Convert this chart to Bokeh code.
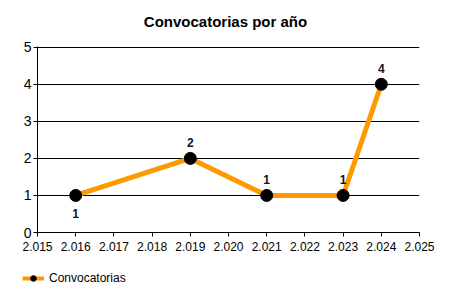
from bokeh.plotting import figure
from bokeh.layouts import column
from bokeh.models import (ColumnDataSource, FixedTicker, Range1d, Legend, LegendItem, Label)
from bokeh.core.properties import value
from bokeh.embed import file_html
from bokeh.resources import INLINE

title_text = "Convocatorias por año"
series_name = "Convocatorias"
years = [2016, 2019, 2021, 2023, 2024]
counts = [1, 2, 1, 1, 4]
label_below = [True, False, False, False, False]
x_ticks = [2015, 2016, 2017, 2018, 2019, 2020, 2021, 2022, 2023, 2024, 2025]
x_tick_labels = ["2.015", "2.016", "2.017", "2.018", "2.019", "2.020",
                 "2.021", "2.022", "2.023", "2.024", "2.025"]
y_ticks = [0, 1, 2, 3, 4, 5]

FONT = "Liberation Sans"
ORANGE = "#FF9900"


def strip(height):
    f = figure(width=450, height=height, output_backend="svg", toolbar_location=None,
               x_range=Range1d(0, 450), y_range=Range1d(0, height), frame_align=False,
               min_border_left=0, min_border_right=0, min_border_top=0, min_border_bottom=0)
    f.axis.visible = False
    f.grid.visible = False
    f.outline_line_color = None
    f.background_fill_color = "white"
    f.border_fill_color = "white"
    return f


# title strip
tt = strip(38)
tt.add_layout(Label(x=225, y=17, text=title_text, text_align="center",
                    text_baseline="alphabetic", text_font=FONT, text_font_size="15px",
                    text_font_style="bold", text_color="#000000"))

# main chart
p = figure(width=450, height=224, output_backend="svg", toolbar_location=None,
           x_range=Range1d(2015, 2025), y_range=Range1d(0, 5.02),
           min_border_left=37, min_border_right=31, min_border_bottom=30,
           min_border_top=8, frame_align=False)
p.outline_line_color = None
p.background_fill_color = "white"
p.border_fill_color = "white"

p.xaxis.ticker = FixedTicker(ticks=x_ticks)
p.xaxis.major_label_overrides = {t: l for t, l in zip(x_ticks, x_tick_labels)}
p.yaxis.ticker = FixedTicker(ticks=y_ticks)
for ax in (p.xaxis, p.yaxis):
    ax.axis_line_color = "black"
    ax.major_tick_line_color = "black"
    ax.minor_tick_line_color = None
    ax.major_tick_out = 4
    ax.major_tick_in = 0
    ax.major_label_text_font = FONT
    ax.major_label_text_color = "#000000"
p.xaxis.major_label_text_font_size = "12px"
p.yaxis.major_label_text_font_size = "14px"
p.xaxis.major_label_standoff = 5
p.yaxis.major_label_standoff = 2
p.xgrid.grid_line_color = None
p.ygrid.grid_line_color = "black"
p.ygrid.grid_line_width = 1

src = ColumnDataSource(dict(x=years, y=counts, t=[str(c) for c in counts],
                            off=[18 if b else -16 for b in label_below]))
ln = p.line("x", "y", source=src, line_color=ORANGE, line_width=5)
sc = p.scatter("x", "y", source=src, size=12, fill_color="black", line_color="black")
p.text("x", "y", text="t", source=src, y_offset="off", text_align="center",
       text_baseline="middle", text_font=value(FONT), text_font_size="12px",
       text_font_style="bold", text_color="#111122")

# legend strip below the chart (swatch renderers sit outside the visible range)
lg = strip(38)
swatch = ColumnDataSource(dict(x=[-50, -40], y=[-50, -40]))
lln = lg.line("x", "y", source=swatch, line_color=ORANGE, line_width=4)
lsc = lg.scatter("x", "y", source=swatch, size=6, fill_color="black", line_color="black")
legend = Legend(items=[LegendItem(label=series_name, renderers=[lln, lsc])],
                location=(22, 15), orientation="horizontal",
                padding=0, margin=0, glyph_width=22, glyph_height=14,
                label_standoff=5, label_text_font=FONT, label_text_font_size="12px",
                label_text_color="#000000", border_line_color=None,
                background_fill_alpha=0)
lg.add_layout(legend, "center")

layout = column(tt, p, lg, spacing=0)
open("out.html", "w").write(file_html(layout, INLINE))
